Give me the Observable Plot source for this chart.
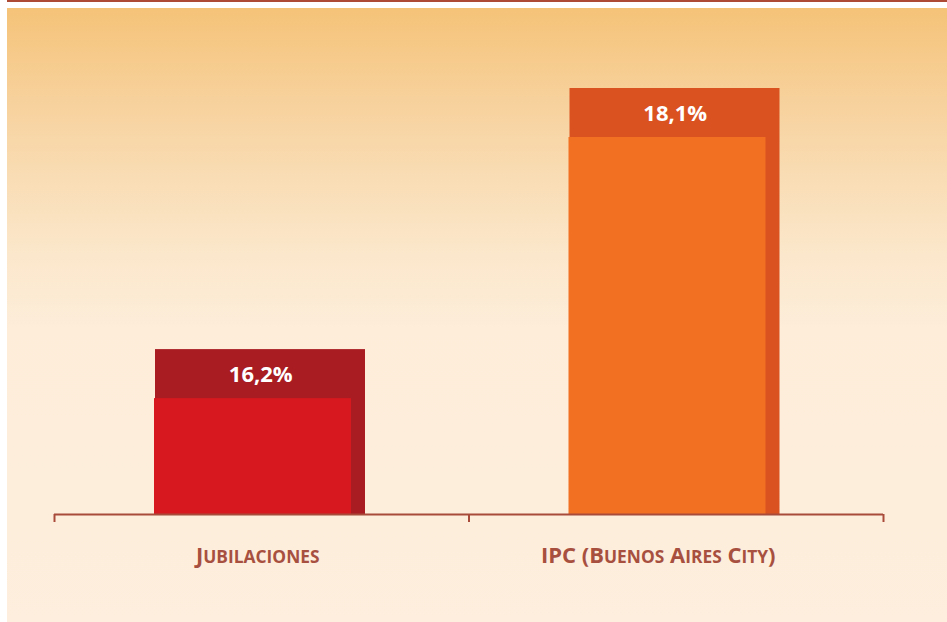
<!DOCTYPE html>
<html>
<head>
<meta charset="utf-8">
<script src="https://cdn.jsdelivr.net/npm/d3@7"></script>
<script src="https://cdn.jsdelivr.net/npm/@observablehq/plot@0.6"></script>
<style>
  html, body { margin: 0; padding: 0; background: #ffffff; }
  #wrap { position: absolute; left: 7px; top: 0; width: 940px; }
  #topline { height: 1.5px; background: #ad4a36; margin-bottom: 6.5px; }
  #chart svg { display: block; }
</style>
</head>
<body>
<div id="wrap">
  <div id="topline"></div>
  <div id="chart"></div>
</div>
<script>
const categories = ["Jubilaciones", "IPC (Buenos Aires City)"];
const values = [16.2, 18.1];
const valueLabels = ["16,2%", "18,1%"];
const backColors = ["#a81c22", "#da5220"];
const frontColors = ["#d7191f", "#f27022"];

const data = categories.map((c, i) => ({i, category: c, value: values[i], label: valueLabels[i], back: backColors[i], front: frontColors[i]}));
const yBase = 15;
const axisColor = "#a84b3a";
const labelColor = "#a8503f";
const font = "'Open Sans', Lato, sans-serif";

const catText = (i, dx) => Plot.text(data, {
  filter: d => d.i === i,
  x: d => d.i + 0.5, y: yBase, text: "category", dx, dy: 41,
  fill: labelColor, fontSize: 22, fontWeight: "bold", fontFamily: font,
  lineAnchor: "middle", className: "catlabel"
});

const chart = Plot.plot({
  width: 940,
  height: 614,
  marginLeft: 47,
  marginRight: 64,
  marginTop: 80,
  marginBottom: 108,
  style: {
    background: "linear-gradient(to bottom, #f5c378 0%, #f7d19c 15%, #f9ddb5 28%, #fbe7cb 40%, #fdedd9 52%, #fdeedd 100%)",
    overflow: "visible"
  },
  x: {domain: [0, categories.length], axis: null},
  y: {domain: [yBase, d3.max(values)], axis: null},
  marks: [
    Plot.rect(data, {x1: d => d.i, x2: d => d.i + 1, y1: yBase, y2: "value", insetLeft: 101, insetRight: 103.5, fill: "back"}),
    Plot.rect(data, {x1: d => d.i, x2: d => d.i + 1, y1: yBase, y2: "value", insetLeft: 100, insetRight: 117.5, insetTop: 49, fill: "front"}),
    Plot.text(data, {x: d => d.i + 0.5, y: "value", text: "label", dx: -1, dy: 25, fill: "white", fontSize: 22, fontWeight: "bold", fontFamily: font, lineAnchor: "middle"}),
    Plot.ruleY([yBase], {stroke: axisColor, strokeWidth: 2}),
    Plot.axisX({ticks: d3.range(categories.length + 1), tickFormat: () => "", tickSize: 8, stroke: axisColor, strokeWidth: 2}),
    catText(0, -4),
    catText(1, -18)
  ]
});

// render category labels in small caps: initial capitals full size, other letters as reduced capitals
d3.select(chart).selectAll(".catlabel text").each(function() {
  const t = d3.select(this);
  const str = t.text();
  t.text(null);
  const parts = str.match(/[a-z]+|[^a-z]+/g);
  for (const p of parts) {
    const span = t.append("tspan").text(p.toUpperCase());
    if (/[a-z]/.test(p)) span.attr("font-size", "0.79em");
  }
});
document.getElementById("chart").appendChild(chart);
</script>
</body>
</html>
